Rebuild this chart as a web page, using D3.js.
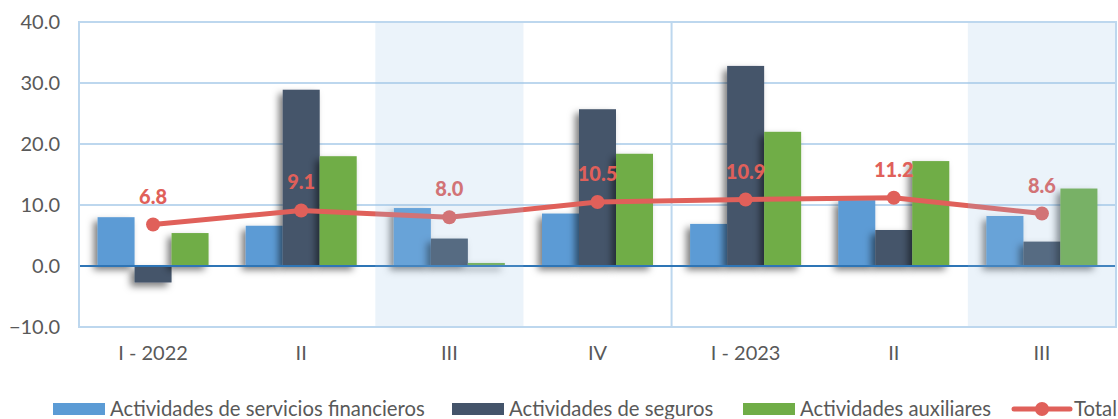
<!DOCTYPE html>
<html lang="es">

<head>
    <meta charset="UTF-8">
    <title>Actividades financieras - variación</title>
    <script src="https://d3js.org/d3.v7.min.js"></script>
    <style>
        body {
            margin: 0;
            background: #ffffff;
            font-family: Lato, sans-serif;
        }

        .tick_label {
            font-size: 20px;
            fill: #595959;
        }

        .legend_text {
            font-size: 20.3px;
            fill: #595959;
        }

        .total_label {
            font-size: 20px;
            font-weight: 900;
            fill: #e0605a;
        }
    </style>
</head>

<body>
    <svg id="chart" width="1118" height="419"></svg>
    <script>

        // data
        let quarters = ["I - 2022", "II", "III", "IV", "I - 2023", "II", "III"]
        let financieros = [8.0, 6.6, 9.5, 8.6, 6.9, 10.8, 8.2]
        let seguros = [-2.7, 28.9, 4.5, 25.7, 32.8, 5.9, 4.0]
        let auxiliares = [5.4, 18.0, 0.5, 18.4, 22.0, 17.2, 12.7]
        let total = [6.8, 9.1, 8.0, 10.5, 10.9, 11.2, 8.6]
        let yTicks = [-10, 0, 10, 20, 30, 40]
        let shadedQuarters = [2, 6]

        let seriesNames = ["Actividades de servicios financieros", "Actividades de seguros", "Actividades auxiliares"]
        let seriesColors = ["#5b9bd5", "#44546a", "#70ad47"]
        let lineColor = "#e0605a"

        let svg = d3.select("#chart")
        let margin = { left: 79, right: 2, top: 22, bottom: 92 }
        let width = 1118, height = 419

        let x = d3.scaleBand()
            .domain(d3.range(quarters.length))
            .range([margin.left, width - margin.right])
        let xInner = d3.scaleBand()
            .domain(d3.range(3))
            .range([0, 111])
        let y = d3.scaleLinear()
            .domain([-10, 40])
            .range([height - margin.bottom, margin.top])

        // drop shadow for bars
        let defs = svg.append("defs")
        let filter = defs.append("filter").attr("id", "shadow")
            .attr("x", "-50%").attr("y", "-20%").attr("width", "200%").attr("height", "140%")
        filter.append("feDropShadow")
            .attr("dx", -4).attr("dy", 4)
            .attr("stdDeviation", 3.5)
            .attr("flood-color", "#000")
            .attr("flood-opacity", 0.5)

        // gridlines
        svg.append("g").selectAll("line")
            .data(yTicks.filter(d => d != 0))
            .join("line")
            .attr("x1", margin.left).attr("x2", width - margin.right)
            .attr("y1", d => y(d)).attr("y2", d => y(d))
            .attr("stroke", "#bdd7ee").attr("stroke-width", 2)

        // vertical separators
        svg.append("g").selectAll("line")
            .data([0, 4, quarters.length])
            .join("line")
            .attr("x1", d => d == quarters.length ? width - margin.right : x(d))
            .attr("x2", d => d == quarters.length ? width - margin.right : x(d))
            .attr("y1", y(40)).attr("y2", y(-10))
            .attr("stroke", "#bdd7ee").attr("stroke-width", 2)

        // y tick labels
        svg.append("g").selectAll("text")
            .data(yTicks)
            .join("text")
            .attr("class", "tick_label")
            .attr("x", 60)
            .attr("y", d => y(d) + 7)
            .attr("text-anchor", "end")
            .text(d => d3.format(".1f")(d))

        // x labels
        svg.append("g").selectAll("text")
            .data(quarters)
            .join("text")
            .attr("class", "tick_label")
            .attr("x", (d, i) => x(i) + x.bandwidth() / 2)
            .attr("y", 360)
            .attr("text-anchor", "middle")
            .text(d => d)

        // bars
        let allSeries = [financieros, seguros, auxiliares]
        let bars = svg.append("g")
        allSeries.forEach((serie, s) => {
            bars.append("g")
                .attr("filter", "url(#shadow)")
                .selectAll("rect")
                .data(serie)
                .join("rect")
                .attr("x", (d, i) => x(i) + x.bandwidth() / 2 - 55.5 + xInner(s))
                .attr("width", xInner.bandwidth())
                .attr("y", d => y(Math.max(0, d)))
                .attr("height", d => Math.abs(y(d) - y(0)))
                .attr("fill", seriesColors[s])
        })

        // zero line
        svg.append("line")
            .attr("x1", margin.left).attr("x2", width - margin.right)
            .attr("y1", y(0)).attr("y2", y(0))
            .attr("stroke", "#2e75b6").attr("stroke-width", 2)

        // total line
        let cx = i => x(i) + x.bandwidth() / 2
        svg.append("path")
            .datum(total)
            .attr("fill", "none")
            .attr("stroke", lineColor)
            .attr("stroke-width", 5)
            .attr("d", d3.line().x((d, i) => cx(i)).y(d => y(d)))
        svg.append("g").selectAll("circle")
            .data(total)
            .join("circle")
            .attr("cx", (d, i) => cx(i))
            .attr("cy", d => y(d))
            .attr("r", 7)
            .attr("fill", lineColor)
        svg.append("g").selectAll("text")
            .data(total)
            .join("text")
            .attr("class", "total_label")
            .attr("x", (d, i) => cx(i))
            .attr("y", d => y(d) - 21)
            .attr("text-anchor", "middle")
            .text(d => d3.format(".1f")(d))

        // shaded quarters, drawn over everything
        svg.append("g").selectAll("rect")
            .data(shadedQuarters)
            .join("rect")
            .attr("x", d => x(d))
            .attr("width", x.bandwidth())
            .attr("y", y(40))
            .attr("height", y(-10) - y(40))
            .attr("fill", "#9dc3e6")
            .attr("opacity", 0.2)

        // outer border
        svg.append("rect")
            .attr("x", margin.left).attr("y", y(40))
            .attr("width", width - margin.right - margin.left)
            .attr("height", y(-10) - y(40))
            .attr("fill", "none")
            .attr("stroke", "#bdd7ee").attr("stroke-width", 2)

        // legend
        let legendItems = [
            { name: seriesNames[0], color: seriesColors[0], sx: 53 },
            { name: seriesNames[1], color: seriesColors[1], sx: 452 },
            { name: seriesNames[2], color: seriesColors[2], sx: 743 }
        ]
        let legend = svg.append("g")
        legendItems.forEach(item => {
            legend.append("rect")
                .attr("x", item.sx).attr("y", 403)
                .attr("width", 52).attr("height", 12)
                .attr("fill", item.color)
            legend.append("text")
                .attr("class", "legend_text")
                .attr("x", item.sx + 57).attr("y", 416)
                .text(item.name)
        })
        legend.append("line")
            .attr("x1", 1014).attr("x2", 1070)
            .attr("y1", 409).attr("y2", 409)
            .attr("stroke", lineColor).attr("stroke-width", 5)
            .attr("stroke-linecap", "round")
        legend.append("circle")
            .attr("cx", 1042).attr("cy", 409).attr("r", 7)
            .attr("fill", lineColor)
        legend.append("text")
            .attr("class", "legend_text")
            .attr("x", 1074).attr("y", 416)
            .text("Total")

    </script>
</body>

</html>
